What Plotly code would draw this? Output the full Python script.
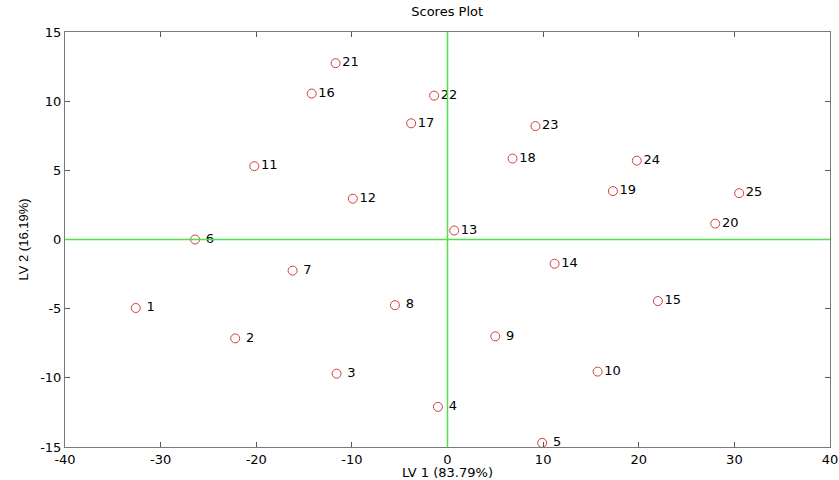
import plotly.graph_objects as go

labels = [str(i) for i in range(1, 26)]
lv1 = [-32.6, -22.2, -11.6, -1.0, 9.9, -26.4, -16.2, -5.5, 5.0, 15.7,
       -20.2, -9.9, 0.7, 11.2, 22.0, -14.2, -3.8, 6.8, 17.3, 28.0,
       -11.7, -1.4, 9.2, 19.8, 30.5]
lv2 = [-4.95, -7.15, -9.7, -12.1, -14.7, 0.0, -2.25, -4.75, -7.0, -9.55,
       5.3, 2.95, 0.65, -1.75, -4.45, 10.55, 8.4, 5.85, 3.5, 1.15,
       12.75, 10.4, 8.2, 5.7, 3.35]
x_ticks = [-40, -30, -20, -10, 0, 10, 20, 30, 40]
y_ticks = [-15, -10, -5, 0, 5, 10, 15]
text_labels = [(" " + s if len(s) == 1 else s) for s in labels]

FONT = "DejaVu Sans, Arial"

fig = go.Figure()
fig.add_shape(type="line", x0=0, x1=0, y0=-15, y1=15, xref="x", yref="y",
              line=dict(color="#4ee04e", width=1.5), layer="above")
fig.add_shape(type="line", x0=-40, x1=40, y0=0, y1=0, xref="x", yref="y",
              line=dict(color="#4ee04e", width=1.5), layer="above")

fig.add_trace(go.Scatter(
    x=lv1, y=lv2, mode="markers+text", text=text_labels,
    textposition="middle right",
    textfont=dict(family=FONT, size=13, color="black"),
    marker=dict(symbol="circle-open", size=9, color="#d04040", line=dict(width=1)),
    showlegend=False, cliponaxis=False,
))

axis_common = dict(showgrid=False, zeroline=False, showline=True, mirror="ticks",
                   linecolor="#7a7a7a", linewidth=1, ticks="inside", ticklen=5,
                   tickcolor="#555555", automargin=False,
                   tickfont=dict(family=FONT, size=13, color="black"))

fig.update_layout(
    width=839, height=480,
    margin=dict(l=65, r=9, t=32, b=33),
    paper_bgcolor="white", plot_bgcolor="white",
    title=dict(text="Scores Plot", x=0.533, xanchor="center", y=0.985, yanchor="top",
               font=dict(family=FONT, size=13, color="black")),
    xaxis=dict(range=[-40, 40], tickvals=x_ticks, ticktext=[str(v) for v in x_ticks],
               title=dict(text="LV 1 (83.79%)", standoff=0,
                          font=dict(family=FONT, size=13, color="black")),
               **axis_common),
    yaxis=dict(range=[-15, 15], tickvals=y_ticks, ticktext=[str(v) for v in y_ticks],
               title=dict(text="LV 2 (16.19%)", standoff=8,
                          font=dict(family="Liberation Sans, Arial", size=13, color="black")),
               **axis_common),
)

fig.write_html("out.html")
